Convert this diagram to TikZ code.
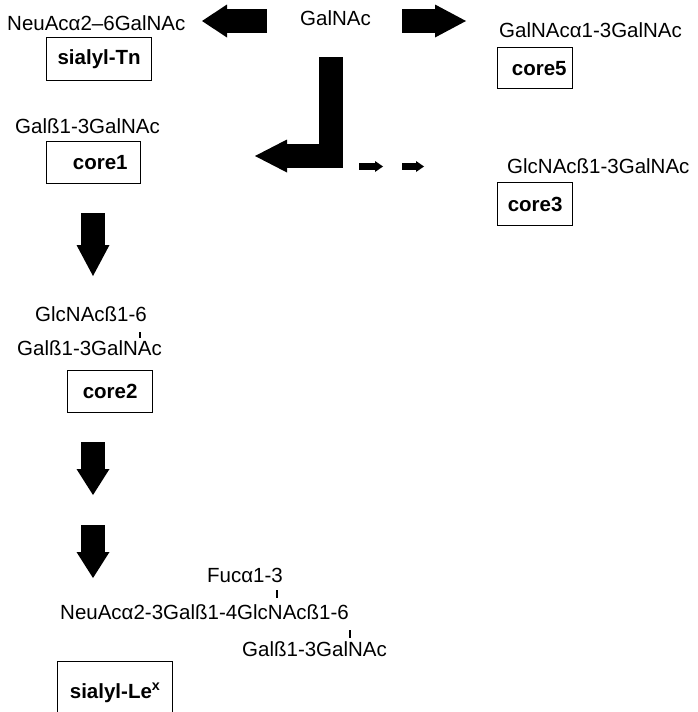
\documentclass[tikz,border=0pt]{standalone}
\usepackage{fontspec}
\setmainfont{Liberation Sans}
\usepackage{tikz}
\usetikzlibrary{arrows.meta,positioning}

\tikzset{
  every node/.style={font=\fontsize{20.5}{24}\selectfont, inner sep=0pt},
  sugar/.style={anchor=base west},
  corebox/.style={draw, line width=1.3pt, anchor=north west, font=\fontsize{20.5}{24}\selectfont\bfseries},
  fatarrow/.style={line width=24pt, -{Triangle[length=#1, width=33pt, line width=0pt]}},
  fatarrow/.default=31pt,
  thinarrow/.style={line width=7pt, -{Triangle[length=8pt, width=11pt, line width=0pt]}},
  bond/.style={line width=1.2pt}
}

\begin{document}
\begin{tikzpicture}[x=1pt, y=-1pt]
  \clip (0,0) rectangle (697,712);
  \fill[white] (0,0) rectangle (697,712);

  % structures
  \node[sugar] (galnac) at (300,25) {GalNAc};
  \node[sugar] (stn)    at (7,30)   {NeuAcα2–6GalNAc};
  \node[sugar] (gal5)   at (499,37) {GalNAcα1-3GalNAc};
  \node[sugar] (gal1)   at (15,133) {Galß1-3GalNAc};
  \node[sugar] (glc3)   at (507,173) {GlcNAcß1-3GalNAc};
  \node[sugar] (glc6)   at (35,321) {GlcNAcß1-6};
  \node[sugar] (gal2)   at (17,355) {Galß1-3GalNAc};
  \node[sugar] (fuc)    at (207,582) {Fucα1-3};
  \node[sugar] (neu3)   at (60,619) {NeuAcα2-3Galß1-4GlcNAcß1-6};
  \node[sugar] (galx)   at (242,656) {Galß1-3GalNAc};

  % names in boxes
  \node[corebox, minimum width=105pt, minimum height=43pt] (tnbox) at (46,37) {sialyl-Tn};
  \node[corebox, minimum width=94pt, minimum height=42pt, text width=68pt, align=right] (c1box) at (46,141) {core1};
  \node[corebox, minimum width=75pt, minimum height=41pt, text width=63pt, align=right] (c5box) at (497,47) {core5};
  \node[corebox, minimum width=75pt, minimum height=43pt] (c3box) at (497,182) {core3};
  \node[corebox, minimum width=85pt, minimum height=42pt] (c2box) at (67,370) {core2};
  \node[corebox, minimum width=115pt, minimum height=62pt] (lexbox) at (57,661) {sialyl-Le\textsuperscript{x}};

  % linkage bonds
  \draw[bond] (140,332) -- (140,338);
  \draw[bond] (277,590) -- (277,598);
  \draw[bond] (350,630) -- (350,638);

  % arrow ends
  \coordinate (tnFrom) at (267,21);
  \coordinate (tnTo)   at (202,21);
  \coordinate (c5From) at (402,21);
  \coordinate (c5To)   at (466,21);
  \coordinate (c1From) at (330.5,57);
  \coordinate (c1To)   at (255,156);
  \coordinate (c2From) at (93,213);
  \coordinate (c2To)   at (93,276);
  \coordinate (lxFrom) at (93,442);
  \coordinate (lxMid)  at (93,495);
  \coordinate (lxNext) at (93,525);
  \coordinate (lxTo)   at (93,578);

  % pathways
  \draw[fatarrow=25pt] (tnFrom) -- (tnTo);
  \draw[fatarrow] (c5From) -- (c5To);
  \draw[fatarrow=32pt] (c1From) |- (c1To);
  \draw[thinarrow] (359,166.5) -- (383,166.5);
  \draw[thinarrow] (402,166.5) -- (424,166.5);
  \draw[fatarrow] (c2From) -- (c2To);
  \draw[fatarrow=26pt] (lxFrom) -- (lxMid);
  \draw[fatarrow=26pt] (lxNext) -- (lxTo);
\end{tikzpicture}
\end{document}
